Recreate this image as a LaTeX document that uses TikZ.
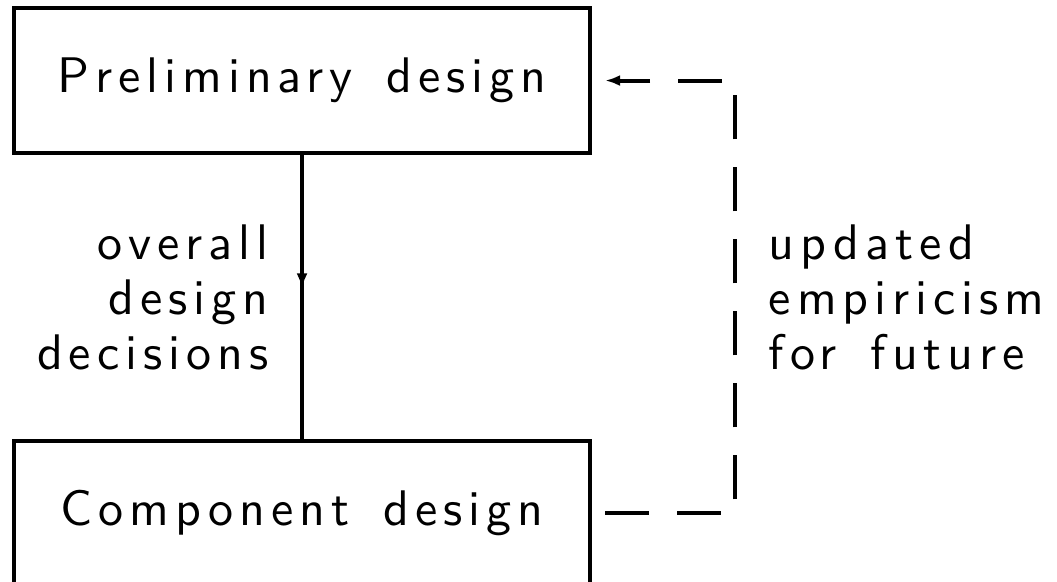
\documentclass[tikz,border=0pt]{standalone}
\usepackage{fontspec}
\newfontfamily\slidesf{Latin Modern Sans}[LetterSpace=12,WordSpace=1.5]
\usetikzlibrary{arrows.meta,calc,positioning,decorations.markings}

\tikzset{
  stage/.style={draw,line width=0.8pt,outer sep=0pt,minimum width=4.05cm,minimum height=1.02cm},
  flow/.style={line width=0.8pt},
  feedback/.style={line width=0.8pt,dash pattern=on 8.8pt off 5.6pt,-{Latex[length=3pt,width=2.2pt]}},
  midarrow/.style={postaction={decorate},decoration={markings,
    mark=at position 0.47 with {\arrow{Latex[length=3pt,width=2.2pt]}}}},
}

\begin{document}
\begin{tikzpicture}[font=\slidesf\fontsize{10}{11}\selectfont]
\useasboundingbox (0,0) rectangle (7.43,-4.084);
% the two design stages
\node[stage] (pre) at (2.123,-0.566) {Preliminary design};
\node[stage] (comp) at (2.123,-3.609) {Component design};
% decisions passed down
\draw[flow,midarrow] (pre) -- node[left=3pt,align=right] {overall\\design\\decisions} (comp);
% feedback loop back up
\draw[feedback] ([xshift=3pt]comp.east) -- ++(0.914,0) |-
  node[pos=0.25,right=3pt,align=left] {updated\\empiricism\\for future} ([xshift=3pt]pre.east);
\end{tikzpicture}
\end{document}
